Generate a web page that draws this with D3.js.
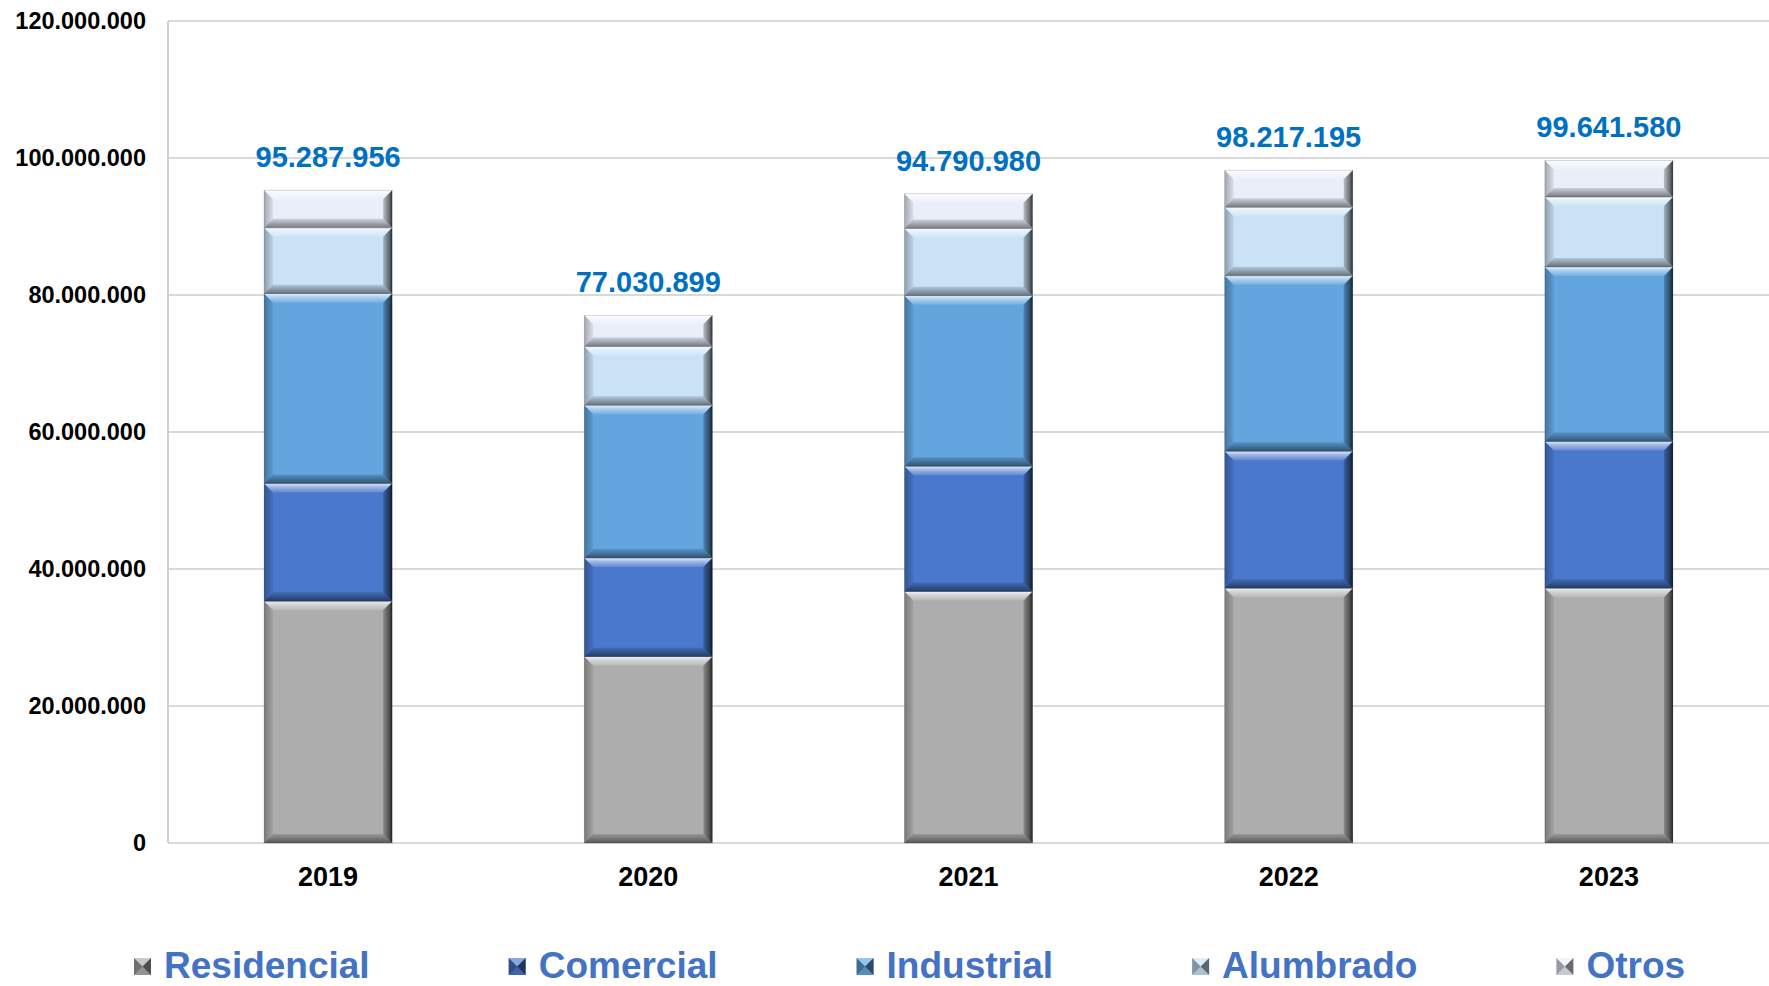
<!DOCTYPE html>
<html>
<head>
<meta charset="utf-8">
<script src="https://cdn.jsdelivr.net/npm/d3@7"></script>
<style>
  body { margin: 0; background: #fff; }
  text { font-family: "Liberation Sans", Arial, sans-serif; font-weight: bold; }
</style>
</head>
<body>
<div id="chart"></div>
<script>
// ---------- data ----------
const years = ["2019", "2020", "2021", "2022", "2023"];
const seriesNames = ["Residencial", "Comercial", "Industrial", "Alumbrado", "Otros"];
const residencial = [35300000, 27200000, 36700000, 37200000, 37200000];
const comercial   = [17200000, 14400000, 18300000, 20000000, 21400000];
const industrial  = [27700000, 22300000, 24900000, 25600000, 25500000];
const alumbrado   = [9600000, 8600000, 9800000, 10000000, 10200000];
const otros       = [5490000, 4530000, 5090000, 5420000, 5340000];
const totals      = [95287956, 77030899, 94790980, 98217195, 99641580];
const yTicks      = [0, 20000000, 40000000, 60000000, 80000000, 100000000, 120000000];

const seriesColors = ["#ADADAD", "#4A78CC", "#62A5DF", "#C9E2F6", "#E9EEFA"];

// ---------- layout ----------
const W = 1769, H = 986;
const margin = { top: 21, right: 0, bottom: 143, left: 168 };

const table = years.map((yr, i) => ({
  year: yr,
  Residencial: residencial[i],
  Comercial: comercial[i],
  Industrial: industrial[i],
  Alumbrado: alumbrado[i],
  Otros: otros[i]
}));

const stacked = d3.stack().keys(seriesNames)(table);

const x = d3.scaleBand()
  .domain(years)
  .range([margin.left, W - margin.right])
  .paddingInner(0.6)
  .paddingOuter(0.3);

const y = d3.scaleLinear()
  .domain([0, 120000000])
  .range([H - margin.bottom, margin.top]);

const locale = d3.formatLocale({ decimal: ",", thousands: ".", grouping: [3], currency: ["", ""] });
const fmt = locale.format(",d");

const svg = d3.select("#chart").append("svg")
  .attr("width", W)
  .attr("height", H);

// ---------- gradients for bevel ----------
const defs = svg.append("defs");
function grad(id, vertical, stops) {
  const g = defs.append("linearGradient").attr("id", id)
    .attr("x1", 0).attr("y1", 0)
    .attr("x2", vertical ? 0 : 1).attr("y2", vertical ? 1 : 0);
  stops.forEach(s => g.append("stop")
    .attr("offset", s[0]).attr("stop-color", s[1]).attr("stop-opacity", s[2]));
}
grad("bev-top", true, [[0, "#fff", 0.85], [0.35, "#fff", 0.5], [1, "#fff", 0.12]]);
grad("bev-bottom", true, [[0, "#000", 0.12], [1, "#000", 0.5]]);
grad("bev-left", false, [[0, "#000", 0.3], [1, "#000", 0.06]]);
grad("bev-right", false, [[0, "#000", 0.2], [0.7, "#000", 0.55], [1, "#000", 0.8]]);

// ---------- grid ----------
svg.append("g")
  .selectAll("line")
  .data(yTicks)
  .join("line")
  .attr("x1", margin.left).attr("x2", W)
  .attr("y1", d => y(d)).attr("y2", d => y(d))
  .attr("stroke", "#d9d9d9")
  .attr("stroke-width", 2);

svg.append("line")
  .attr("x1", margin.left).attr("x2", margin.left)
  .attr("y1", y(120000000)).attr("y2", y(0))
  .attr("stroke", "#d0d0d0")
  .attr("stroke-width", 2);

// y axis labels
const yAxis = d3.axisLeft(y).tickValues(yTicks).tickFormat(fmt).tickSize(0).tickPadding(22);
const yAxisG = svg.append("g")
  .attr("transform", `translate(${margin.left},0)`)
  .call(yAxis);
yAxisG.select(".domain").remove();
yAxisG.selectAll("text")
  .style("font-size", "23.5px")
  .style("font-family", "'Liberation Sans', Arial, sans-serif")
  .style("font-weight", "bold")
  .attr("fill", "#000");

// x axis labels
const xAxis = d3.axisBottom(x).tickSize(0).tickPadding(24);
const xAxisG = svg.append("g")
  .attr("transform", `translate(0,${y(0)})`)
  .call(xAxis);
xAxisG.select(".domain").remove();
xAxisG.selectAll("text")
  .style("font-size", "27px")
  .style("font-family", "'Liberation Sans', Arial, sans-serif")
  .style("font-weight", "bold")
  .attr("fill", "#000");

// ---------- bars ----------
const bev = 9;
function bevel(g, x0, y0, w, h, color) {
  const b = Math.min(bev, h / 2, w / 2);
  const x1 = x0 + w, y1 = y0 + h;
  g.append("rect").attr("x", x0).attr("y", y0).attr("width", w).attr("height", h).attr("fill", color);
  g.append("polygon").attr("points", `${x0},${y0} ${x1},${y0} ${x1 - b},${y0 + b} ${x0 + b},${y0 + b}`)
    .attr("fill", "url(#bev-top)");
  g.append("polygon").attr("points", `${x0 + b},${y1 - b} ${x1 - b},${y1 - b} ${x1},${y1} ${x0},${y1}`)
    .attr("fill", "url(#bev-bottom)");
  g.append("polygon").attr("points", `${x0},${y0} ${x0 + b},${y0 + b} ${x0 + b},${y1 - b} ${x0},${y1}`)
    .attr("fill", "url(#bev-left)");
  g.append("polygon").attr("points", `${x1 - b},${y0 + b} ${x1},${y0} ${x1},${y1} ${x1 - b},${y1 - b}`)
    .attr("fill", "url(#bev-right)");
  g.append("rect").attr("x", x0).attr("y", y0).attr("width", w).attr("height", h)
    .attr("fill", "none").attr("stroke", "rgba(0,0,0,0.18)").attr("stroke-width", 0.8);
}

const barsG = svg.append("g");
stacked.forEach((layer, si) => {
  layer.forEach(d => {
    const g = barsG.append("g");
    bevel(g, x(d.data.year), y(d[1]), x.bandwidth(), y(d[0]) - y(d[1]), seriesColors[si]);
  });
});

// totals
svg.append("g")
  .selectAll("text")
  .data(years)
  .join("text")
  .attr("x", d => x(d) + x.bandwidth() / 2)
  .attr("y", (d, i) => y(totals[i]) - 23)
  .attr("text-anchor", "middle")
  .style("font-size", "29px")
  .attr("fill", "#0070C0")
  .text((d, i) => fmt(totals[i]));

// ---------- legend ----------
const legend = svg.append("g");
let lx = 134;
seriesNames.forEach((name, i) => {
  const g = legend.append("g").attr("transform", `translate(${lx},958)`);
  const s = 17, c = s / 2;
  g.append("rect").attr("width", s).attr("height", s).attr("fill", seriesColors[i]);
  g.append("polygon").attr("points", `0,0 ${s},0 ${c},${c}`).attr("fill", "#fff").attr("fill-opacity", 0.35);
  g.append("polygon").attr("points", `0,${s} ${s},${s} ${c},${c}`).attr("fill", "#000").attr("fill-opacity", 0.15);
  g.append("polygon").attr("points", `0,0 0,${s} ${c},${c}`).attr("fill", "#000").attr("fill-opacity", 0.35);
  g.append("polygon").attr("points", `${s},0 ${s},${s} ${c},${c}`).attr("fill", "#000").attr("fill-opacity", 0.55);
  const t = g.append("text")
    .attr("x", 30)
    .attr("y", 20)
    .style("font-size", "37px")
    .attr("fill", "#4472C4")
    .text(name);
  lx += 30 + t.node().getComputedTextLength() + 139;
});
</script>
</body>
</html>
